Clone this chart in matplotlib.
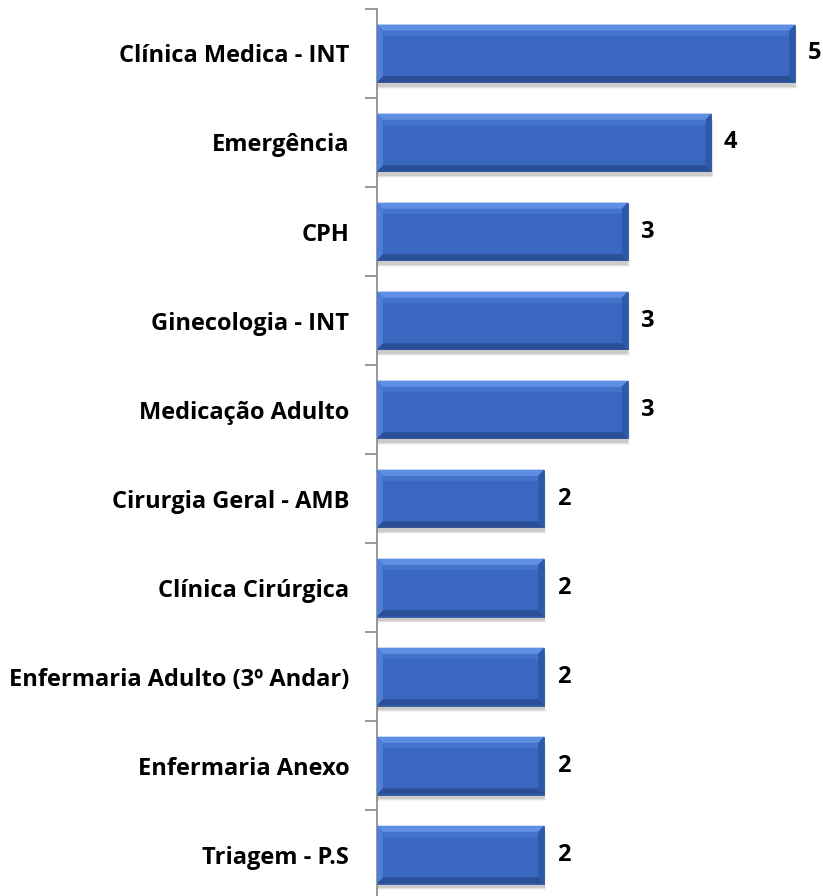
import matplotlib.pyplot as plt
from matplotlib.patches import Polygon, Rectangle

categories = ['Clínica Medica - INT', 'Emergência', 'CPH', 'Ginecologia - INT',
              'Medicação Adulto', 'Cirurgia Geral - AMB', 'Clínica Cirúrgica',
              'Enfermaria Adulto (3º Andar)', 'Enfermaria Anexo', 'Triagem - P.S']
values = [5, 4, 3, 3, 3, 2, 2, 2, 2, 2]

plt.rcParams['font.family'] = ['Open Sans', 'DejaVu Sans']

fig = plt.figure(figsize=(8.23, 8.96), dpi=100)
ax = fig.add_axes([0.458, -0.0035, 0.542, 0.9935])

n = len(categories)
ypos = list(range(n))[::-1]
h = 0.65
bw = 0.07    # bevel width in x (data units)
bh = 0.07    # bevel height in y

for y, v in zip(ypos, values):
    y0, y1 = y - h / 2, y + h / 2
    # soft shadow
    for k, a in enumerate([0.10, 0.07, 0.04]):
        d = 0.012 * (k + 1)
        ax.add_patch(Rectangle((0, y0 - 0.035 - d), v + d * 0.6, h, color='#000000',
                               alpha=a, lw=0, zorder=1))
    ax.barh(y, v, height=h, color='#3A67C0', edgecolor='#2F5597', lw=0.6, zorder=2)
    # bevels
    top = [(0, y1), (v, y1), (v - bw, y1 - bh), (bw, y1 - bh)]
    bot = [(0, y0), (v, y0), (v - bw, y0 + bh), (bw, y0 + bh)]
    left = [(0, y0), (0, y1), (bw, y1 - bh), (bw, y0 + bh)]
    right = [(v, y0), (v, y1), (v - bw, y1 - bh), (v - bw, y0 + bh)]
    ax.add_patch(Polygon(top, closed=True, color='#5F8FE3', lw=0, zorder=3))
    ax.add_patch(Polygon(bot, closed=True, color='#2A4F96', lw=0, zorder=3))
    ax.add_patch(Polygon(left, closed=True, color='#4F7FD6', lw=0, zorder=3))
    ax.add_patch(Polygon(right, closed=True, color='#2E59A8', lw=0, zorder=3))
    ax.add_patch(Polygon([(bw, y1 - bh), (v - bw, y1 - bh), (v - bw, y1 - bh - 0.06),
                          (bw, y1 - bh - 0.06)], closed=True, color='#4473CC',
                         lw=0, zorder=3))
    ax.annotate(str(v), xy=(v, y), xytext=(9, 0), textcoords='offset points',
                ha='left', va='center', fontsize=17, fontweight='bold', color='black')

ax.set_xlim(0, 5.335)
ax.set_ylim(-0.5, n - 0.5)
ax.set_yticks(ypos)
ax.set_yticklabels(categories, fontsize=17, fontweight='bold')
ax.tick_params(axis='y', which='major', length=0, pad=20)
ax.set_yticks([i - 0.5 for i in range(n + 1)], minor=True)
ax.tick_params(axis='y', which='minor', length=9, color='#868686', width=1.2)
ax.set_xticks([])
for s in ['top', 'right', 'bottom']:
    ax.spines[s].set_visible(False)
ax.spines['left'].set_color('#868686')
ax.spines['left'].set_linewidth(1.2)

plt.savefig('out.png', dpi=100)
